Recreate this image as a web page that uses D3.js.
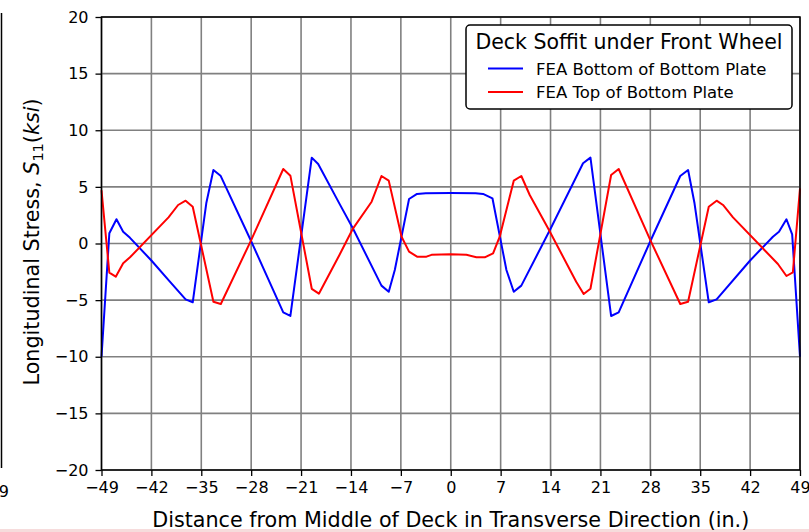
<!DOCTYPE html>
<html>
<head>
<meta charset="utf-8">
<script src="https://cdn.jsdelivr.net/npm/d3@7"></script>
<style>
	body { margin: 0; background: #fff; }
	text { font-family: "DejaVu Sans", sans-serif; fill: #000; }
</style>
</head>
<body>
<svg id="mainsvg" width="809" height="532"></svg>
<script>
// FEA Bottom of Bottom Plate (blue)
var bottomX = [-49, -47.9, -46.9, -45.96, -45, -42, -39.5, -37.2, -36.2, -34.3, -33.3, -32.3, -28, -23.5, -22.5,
	-19.5, -18.6, -15.6, -13.7, -9.72, -8.7, -7.85, -5.85, -4.73, -3.5, 0, 3.5, 4.53, 5.85, 7.81, 8.84, 9.9,
	14, 18.56, 19.6, 22.5, 23.56, 28, 32.2, 33.3, 34.2, 36.2, 37.3, 42, 45.2, 46.05, 47.1, 47.9, 49];
var bottomS = [-10, 0.9, 2.14, 1.04, 0.5, -1.5, -3.3, -4.93, -5.19, 3.55, 6.49, 5.99, 0.2, -6.08, -6.4,
	7.58, 7.02, 3.5, 1.3, -3.72, -4.26, -2.34, 3.93, 4.38, 4.43, 4.45, 4.43, 4.38, 3.99, -2.34, -4.26, -3.72,
	1.3, 7.08, 7.58, -6.4, -6.08, 0.2, 5.96, 6.49, 3.55, -5.19, -4.93, -1.5, 0.6, 1.04, 2.14, 0.81, -10];

// FEA Top of Bottom Plate (red)
var topX = [-49, -47.9, -47, -45.96, -45, -39.6, -38.25, -37.2, -36.2, -33.3, -32.26, -28, -23.5, -22.5,
	-19.5, -18.5, -15.6, -13.7, -11.1, -9.72, -8.7, -6.9, -5.85, -4.73, -3.4, -2.7, 0, 2.2, 3.6, 4.77, 5.94,
	6.87, 8.84, 9.9, 11.08, 13.65, 17.6, 18.65, 19.6, 22.5, 23.56, 28, 32.2, 33.3, 36.2, 37.3, 38.2, 39.6,
	45.9, 47.1, 48, 49];
var topS = [4.7, -2.58, -2.93, -1.75, -1.22, 2.31, 3.4, 3.78, 3.25, -5.14, -5.34, 0.3, 6.58, 5.99,
	-4.0, -4.43, -1.0, 1.34, 3.69, 5.96, 5.55, 0.6, -0.72, -1.16, -1.16, -1.0, -0.96, -1.0, -1.22, -1.22, -0.87,
	0.6, 5.55, 5.96, 4.28, 1.34, -3.37, -4.46, -4.0, 6.05, 6.58, 0.3, -5.34, -5.14, 3.25, 3.78, 3.4, 2.31,
	-1.81, -2.87, -2.54, 4.87];

var xTicks = [-49, -42, -35, -28, -21, -14, -7, 0, 7, 14, 21, 28, 35, 42, 49];
var yTicks = [-20, -15, -10, -5, 0, 5, 10, 15, 20];

var legendTitle = "Deck Soffit under Front Wheel";
var seriesNames = ["FEA Bottom of Bottom Plate", "FEA Top of Bottom Plate"];
var seriesColors = ["#0000ff", "#ff0000"];

var svg = d3.select("#mainsvg");
var plotL = 101.5, plotR = 800, plotT = 17, plotB = 470;

var x = d3.scaleLinear().domain([-49, 49]).range([plotL, plotR]);
var y = d3.scaleLinear().domain([-20, 20]).range([plotB, plotT]);

// leftover edge of the neighbouring chart
svg.append("line").attr("x1", 1.5).attr("x2", 1.5).attr("y1", 13).attr("y2", 468)
	.attr("stroke", "#000").attr("stroke-width", 1.5);
svg.append("text").attr("x", 9).attr("y", 497).attr("text-anchor", "end")
	.style("font-size", "16px").text("\u221249");
svg.append("rect").attr("x", 0).attr("y", 529).attr("width", 809).attr("height", 3).attr("fill", "#f6dcdc");

// grid
var grid = svg.append("g").attr("class", "grid");
grid.selectAll("line.gx").data(xTicks).enter().append("line")
	.attr("x1", function(d) { return x(d); }).attr("x2", function(d) { return x(d); })
	.attr("y1", plotT).attr("y2", plotB)
	.attr("stroke", "#808080").attr("stroke-width", 1.6);
grid.selectAll("line.gy").data(yTicks).enter().append("line")
	.attr("y1", function(d) { return y(d); }).attr("y2", function(d) { return y(d); })
	.attr("x1", plotL).attr("x2", plotR)
	.attr("stroke", "#808080").attr("stroke-width", 1.6);

// series
var series = [
	{ xs: bottomX, ys: bottomS, color: seriesColors[0] },
	{ xs: topX, ys: topS, color: seriesColors[1] }
];
var line = d3.line()
	.x(function(d) { return x(d[0]); })
	.y(function(d) { return y(d[1]); });

series.forEach(function(s) {
	var pts = s.xs.map(function(v, i) { return [v, s.ys[i]]; });
	svg.append("path").datum(pts)
		.attr("d", line)
		.attr("fill", "none")
		.attr("stroke", s.color)
		.attr("stroke-width", 2)
		.attr("stroke-linejoin", "round");
});

// spines
svg.append("rect").attr("x", plotL).attr("y", plotT).attr("width", plotR - plotL).attr("height", plotB - plotT)
	.attr("fill", "none").attr("stroke", "#000").attr("stroke-width", 1.5);

// axes
var xAxis = svg.append("g").attr("transform", "translate(0," + plotB + ")")
	.call(d3.axisBottom(x).tickValues(xTicks).tickSize(6).tickPadding(6));
var yAxis = svg.append("g").attr("transform", "translate(" + plotL + ",0)")
	.call(d3.axisLeft(y).tickValues(yTicks).tickSize(6).tickPadding(7));
[xAxis, yAxis].forEach(function(a) {
	a.select(".domain").remove();
	a.selectAll(".tick line").attr("stroke", "#000").attr("stroke-width", 1.3);
	a.selectAll(".tick text").style("font-size", "16px").style("font-family", "DejaVu Sans, sans-serif").attr("fill", "#000");
});

// axis labels
svg.append("text").attr("x", (plotL + plotR) / 2).attr("y", 527).attr("text-anchor", "middle")
	.style("font-size", "20.7px").text("Distance from Middle of Deck in Transverse Direction (in.)");

var ylab = svg.append("text").attr("transform", "translate(38.5,242) rotate(-90)")
	.attr("text-anchor", "middle").style("font-size", "20.7px");
ylab.append("tspan").text("Longitudinal Stress, ");
ylab.append("tspan").style("font-style", "italic").text("S");
ylab.append("tspan").attr("dy", 4.5).style("font-size", "14.5px").text("11");
ylab.append("tspan").attr("dy", -4.5).text("(");
ylab.append("tspan").style("font-style", "italic").text("ksi");
ylab.append("tspan").text(")");

// legend
var lg = svg.append("g").attr("class", "legend");
lg.append("rect").attr("x", 466).attr("y", 25).attr("width", 326).attr("height", 84).attr("rx", 4)
	.attr("fill", "#fff").attr("stroke", "#000").attr("stroke-width", 1.5);
lg.append("text").attr("x", 629).attr("y", 48.5).attr("text-anchor", "middle")
	.style("font-size", "20.5px").text(legendTitle);
seriesNames.forEach(function(name, i) {
	var ly = 68.5 + i * 23.5;
	lg.append("line").attr("x1", 488).attr("x2", 523).attr("y1", ly).attr("y2", ly)
		.attr("stroke", seriesColors[i]).attr("stroke-width", 2);
	lg.append("text").attr("x", 536).attr("y", ly + 6).style("font-size", "16.5px").text(name);
});
</script>
</body>
</html>
